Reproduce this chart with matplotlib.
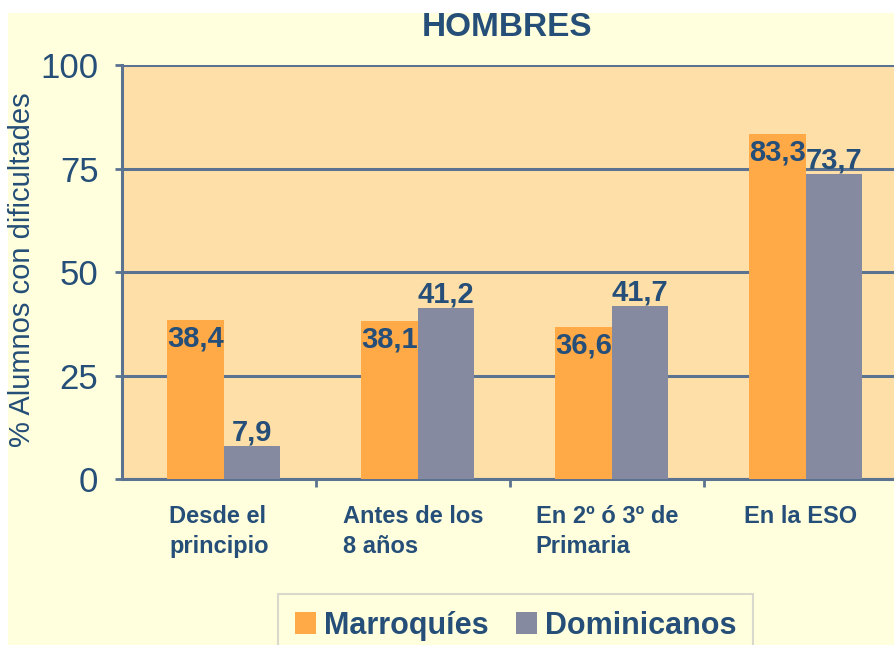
import matplotlib
matplotlib.use("Agg")
import matplotlib.pyplot as plt
from matplotlib.patches import Rectangle
import numpy as np

categories = ["Desde el\nprincipio", "Antes de los\n8 años", "En 2º ó 3º de\nPrimaria", "En la ESO"]
series_names = ["Marroquíes", "Dominicanos"]
marroquies = [38.4, 38.1, 36.6, 83.3]
dominicanos = [7.9, 41.2, 41.7, 73.7]
yticks = [0, 25, 50, 75, 100]

TXT = "#254E78"
GRID = "#5B7391"
ORANGE = "#FFA947"
GRAY = "#868AA0"
PLOTBG = "#FEDFA8"
FIGBG = "#FFFFDD"

plt.rcParams['font.family'] = ['Liberation Sans', 'DejaVu Sans']

W, H = 894, 645
fig = plt.figure(figsize=(W/100, H/100), dpi=100, facecolor="white")
fig.patches.append(Rectangle((8/W, 0), 1, 1 - 13/H, transform=fig.transFigure,
                             facecolor=FIGBG, edgecolor="none", zorder=-10))

ax = fig.add_axes([122/W, 1 - 479/H, 776/W, (479-65)/H])
ax.set_facecolor(PLOTBG)

x = np.arange(len(categories))
bw = 0.292
off = 0.146
sh = 0.025
b1 = ax.bar(x - off + sh, marroquies, bw, color=ORANGE, zorder=3, label=series_names[0])
b2 = ax.bar(x + off + sh, dominicanos, bw, color=GRAY, zorder=3, label=series_names[1])

for xi, v in zip(x, marroquies):
    ax.annotate(f"{v:.1f}".replace(".", ","), (xi - off + sh, v), xytext=(0, -3),
                textcoords="offset points", ha="center", va="top",
                fontsize=21, fontweight="bold", color=TXT, zorder=5)
for xi, v in zip(x, dominicanos):
    ax.annotate(f"{v:.1f}".replace(".", ","), (xi + off + sh, v), xytext=(0, 4),
                textcoords="offset points", ha="center", va="baseline",
                fontsize=21, fontweight="bold", color=TXT, zorder=5)

ax.set_xlim(-0.5, 3.5)
ax.set_ylim(0, 100)
ax.set_yticks(yticks)
ax.set_yticklabels([str(t) for t in yticks], fontsize=25, color=TXT)
ax.yaxis.grid(True, color=GRID, linewidth=2.2, zorder=1)
ax.set_axisbelow(True)
ax.tick_params(axis="y", length=5, width=2, color=GRID, pad=12)

ax.set_xticks(x)
ax.set_xticklabels(categories, fontsize=17, fontweight="bold", color=TXT,
                   multialignment="left", linespacing=1.35)
ax.tick_params(axis="x", which="major", length=0, pad=19)
ax.set_xticks([0.5, 1.5, 2.5], minor=True)
ax.tick_params(axis="x", which="minor", length=6, width=2, color=GRID)

for s in ["top", "right"]:
    ax.spines[s].set_visible(False)
for s in ["left", "bottom"]:
    ax.spines[s].set_color(GRID)
    ax.spines[s].set_linewidth(2.2)

ax.set_ylabel("% Alumnos con dificultades", fontsize=21, color=TXT)
ax.yaxis.set_label_coords(36/W, 1 - 270/H, transform=fig.transFigure)

fig.text(507/W, 1 - 28/H, "HOMBRES", ha="center", va="center",
         fontsize=24, fontweight="bold", color=TXT)

leg = fig.legend(handles=[b1, b2], labels=series_names, loc="upper left",
                 bbox_to_anchor=(278/W, 1 - 594/H), ncol=2, frameon=True,
                 fontsize=22, handlelength=0.7, handleheight=0.7,
                 handletextpad=0.25, columnspacing=0.9, borderpad=0.55,
                 borderaxespad=0, fancybox=False)
leg.get_frame().set_facecolor(FIGBG)
leg.get_frame().set_edgecolor("#CFCFC8")
leg.get_frame().set_linewidth(1.5)
for t in leg.get_texts():
    t.set_color(TXT)
    t.set_fontweight("bold")

fig.savefig("out.png", dpi=100, facecolor=fig.get_facecolor())
